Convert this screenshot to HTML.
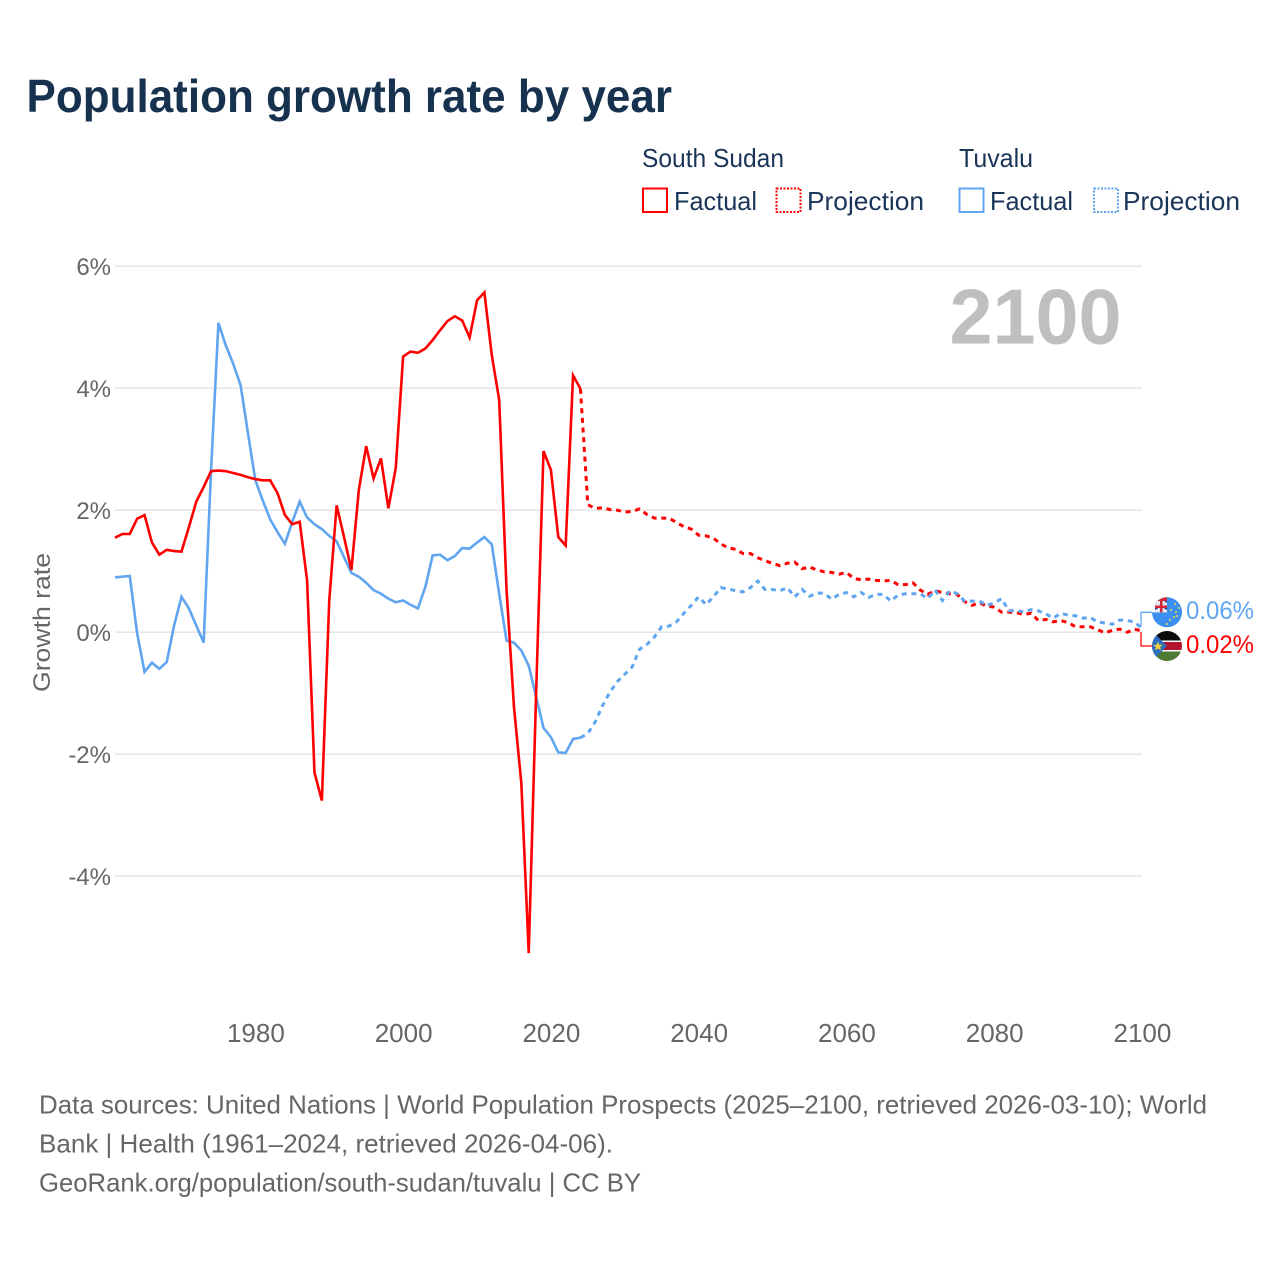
<!DOCTYPE html>
<html lang="en">
<head>
<meta charset="utf-8">
<title>Population growth rate by year</title>
<style>
html,body{margin:0;padding:0;background:#fff;}
svg{display:block;font-family:"Liberation Sans",sans-serif;}
</style>
</head>
<body>
<svg id="chart" xmlns="http://www.w3.org/2000/svg" width="1280" height="1280" viewBox="0 0 1280 1280">
  <rect x="0" y="0" width="1280" height="1280" fill="#ffffff"/>
  <text x="26.500" y="112" font-size="46" font-weight="700" fill="#17324f" textLength="645.500" lengthAdjust="spacingAndGlyphs">Population growth rate by year</text>

  <g id="legend" font-size="26" fill="#1a3557">
    <text x="642" y="167" textLength="142" lengthAdjust="spacingAndGlyphs">South Sudan</text>
    <text x="959" y="167" textLength="74" lengthAdjust="spacingAndGlyphs">Tuvalu</text>
    <rect x="643" y="188.5" width="24" height="23.5" fill="none" stroke="#ff0000" stroke-width="2"/>
    <text x="674" y="210" textLength="83" lengthAdjust="spacingAndGlyphs">Factual</text>
    <rect x="776.5" y="188.5" width="24" height="23.5" fill="none" stroke="#ff0000" stroke-width="2" stroke-dasharray="2 1.5"/>
    <text x="807" y="210" textLength="117" lengthAdjust="spacingAndGlyphs">Projection</text>
    <rect x="959.5" y="188.5" width="24" height="23.5" fill="none" stroke="#60a5f0" stroke-width="2"/>
    <text x="990" y="210" textLength="83" lengthAdjust="spacingAndGlyphs">Factual</text>
    <rect x="1094" y="188.5" width="24" height="23.5" fill="none" stroke="#60a5f0" stroke-width="2" stroke-dasharray="2 1.5"/>
    <text x="1123" y="210" textLength="117" lengthAdjust="spacingAndGlyphs">Projection</text>
  </g>

  <g id="grid"></g>
  <g id="yticks"></g>
  <g id="xticks"></g>

  <text transform="translate(50,622.5) rotate(-90)" text-anchor="middle" font-size="24" fill="#666666" textLength="139" lengthAdjust="spacingAndGlyphs">Growth rate</text>

  <text x="949.500" y="343.500" font-size="78" font-weight="700" fill="#bfbfbf" textLength="172" lengthAdjust="spacingAndGlyphs">2100</text>

  <g id="series"></g>

  <g>
    <path d="M1141 627V612.3H1152" fill="none" stroke="#60a5f0" stroke-width="1.300"/>
    <path d="M1141 632V646H1152" fill="none" stroke="#ff0000" stroke-width="1.300"/>
    <defs>
      <clipPath id="clipT"><circle cx="1167" cy="612.3" r="15"/></clipPath>
      <clipPath id="clipS"><circle cx="1167" cy="646" r="15"/></clipPath>
    </defs>
    <g clip-path="url(#clipT)">
      <rect x="1152" y="597" width="30" height="31" fill="#3a8ff0"/>
      <rect x="1152" y="597" width="15" height="15.300" fill="#ffffff"/>
      <rect x="1152" y="597" width="15" height="4" fill="#d3263a"/>
      <rect x="1155" y="601" width="12" height="11.300" fill="#e8e8ee"/>
      <rect x="1160" y="601" width="2.500" height="11.300" fill="#d3263a"/>
      <rect x="1155" y="605.500" width="12" height="2.500" fill="#d3263a"/>
      <path d="M1155 610l3.500-2h-3.500zM1167 610l-3.500-2h3.500zM1164 601l3 2v-2z" fill="#1d3f8f"/>
      <g fill="#f5d451">
        <circle cx="1175" cy="604" r="1"/><circle cx="1179" cy="608" r="1"/><circle cx="1176" cy="612" r="1"/>
        <circle cx="1171" cy="610" r="1"/><circle cx="1174" cy="617" r="1"/><circle cx="1170" cy="620" r="1"/>
        <circle cx="1167" cy="624" r="1"/><circle cx="1177" cy="616" r="1"/>
      </g>
    </g>
    <g clip-path="url(#clipS)">
      <rect x="1152" y="631" width="30" height="10" fill="#0b0b0b"/>
      <rect x="1152" y="640.500" width="30" height="11" fill="#ffffff"/>
      <rect x="1152" y="642" width="30" height="8" fill="#b3132f"/>
      <rect x="1152" y="651.500" width="30" height="9.500" fill="#4f7a32"/>
      <path d="M1152 631L1167 646 1152 661z" fill="#2b6fc0"/>
      <path d="M1158 641.500l1.300 3.200 3.400.200-2.600 2.200.900 3.300-3-1.800-3 1.800.900-3.300-2.600-2.200 3.400-.200z" fill="#f4d23c"/>
    </g>
    <text x="1186" y="619" font-size="25" fill="#60a5f0" textLength="68" lengthAdjust="spacingAndGlyphs">0.06%</text>
    <text x="1186" y="653" font-size="25" fill="#ff0000" textLength="68" lengthAdjust="spacingAndGlyphs">0.02%</text>
  </g>

  <g font-size="26" fill="#666666">
    <text x="39" y="1113.500" textLength="1168" lengthAdjust="spacingAndGlyphs">Data sources: United Nations | World Population Prospects (2025–2100, retrieved 2026-03-10); World</text>
    <text x="39" y="1152.500" textLength="574" lengthAdjust="spacingAndGlyphs">Bank | Health (1961–2024, retrieved 2026-04-06).</text>
    <text x="39" y="1191.500" textLength="602" lengthAdjust="spacingAndGlyphs">GeoRank.org/population/south-sudan/tuvalu | CC BY</text>
  </g>
</svg>
<script>
const firstYear = 1961;
const lastFactualYear = 2024;
const xTickYears = [1980, 2000, 2020, 2040, 2060, 2080, 2100];
const yTickValues = [6, 4, 2, 0, -2, -4];
const yTickLabels = ["6%", "4%", "2%", "0%", "-2%", "-4%"];

const southSudanFactual = [
  1.55,1.61,1.61,1.86,1.92,1.47,1.27,1.35,1.33,1.32,
  1.72,2.14,2.38,2.64,2.65,2.64,2.61,2.58,2.54,2.51,
  2.49,2.49,2.28,1.92,1.77,1.81,0.85,-2.30,-2.76,0.52,
  2.08,1.56,1.02,2.33,3.05,2.52,2.85,2.03,2.69,4.52,
  4.60,4.58,4.65,4.79,4.95,5.10,5.18,5.11,4.83,5.44,
  5.57,4.54,3.81,0.69,-1.22,-2.48,-5.26,-1.00,2.97,2.66,
  1.56,1.42,4.21,3.99
];
const southSudanProjection = [
  2.09,2.03,2.04,2.01,2.00,1.97,1.98,2.02,1.93,1.87,
  1.87,1.87,1.80,1.73,1.69,1.59,1.58,1.54,1.45,1.38,
  1.36,1.29,1.29,1.22,1.17,1.13,1.09,1.13,1.15,1.04,
  1.07,1.02,0.99,0.98,0.95,0.98,0.88,0.86,0.87,0.85,
  0.84,0.85,0.78,0.78,0.81,0.69,0.62,0.68,0.65,0.63,
  0.62,0.50,0.44,0.48,0.43,0.41,0.33,0.33,0.32,0.29,
  0.31,0.19,0.21,0.17,0.19,0.16,0.09,0.09,0.09,0.04,
  -0.01,0.03,0.05,0.00,0.05,0.02
];
const tuvaluFactual = [
  0.90,0.91,0.92,-0.02,-0.65,-0.50,-0.60,-0.49,0.11,0.58,
  0.39,0.11,-0.17,2.65,5.07,4.70,4.40,4.05,3.26,2.49,
  2.16,1.85,1.64,1.45,1.81,2.14,1.88,1.77,1.69,1.58,
  1.49,1.23,0.97,0.91,0.81,0.69,0.63,0.55,0.49,0.52,
  0.45,0.39,0.74,1.26,1.27,1.18,1.25,1.38,1.37,1.47,
  1.56,1.44,0.63,-0.14,-0.17,-0.30,-0.55,-1.06,-1.57,-1.72,
  -1.97,-1.98,-1.75,-1.73
];
const tuvaluProjection = [
  -1.66,-1.47,-1.20,-0.98,-0.81,-0.69,-0.57,-0.28,-0.20,-0.08,
  0.09,0.10,0.17,0.31,0.44,0.58,0.45,0.58,0.73,0.71,
  0.68,0.66,0.73,0.84,0.70,0.70,0.68,0.73,0.58,0.70,
  0.59,0.64,0.64,0.54,0.62,0.65,0.58,0.65,0.57,0.62,
  0.62,0.51,0.61,0.63,0.63,0.63,0.55,0.69,0.52,0.68,
  0.63,0.51,0.51,0.51,0.44,0.48,0.55,0.35,0.36,0.33,
  0.37,0.35,0.30,0.23,0.31,0.28,0.27,0.23,0.24,0.17,
  0.15,0.13,0.20,0.19,0.17,0.06
];

const SVG_NS = "http://www.w3.org/2000/svg";
function xScale(year) { return 115 + (year - 1961) * 7.388; }
function yScale(value) { return 632.2 - value * 61; }

function linePath(startYear, values, prefix) {
  let d = prefix || "";
  values.forEach(function (v, i) {
    const cmd = (d === "" ) ? "M" : "L";
    d += cmd + xScale(startYear + i).toFixed(2) + " " + yScale(v).toFixed(2);
  });
  return d;
}

const grid = document.getElementById("grid");
const yticks = document.getElementById("yticks");
yTickValues.forEach(function (v, i) {
  const line = document.createElementNS(SVG_NS, "line");
  line.setAttribute("x1", 115);
  line.setAttribute("x2", 1142);
  line.setAttribute("y1", yScale(v));
  line.setAttribute("y2", yScale(v));
  line.setAttribute("stroke", "#e6e6e6");
  line.setAttribute("stroke-width", "1.6");
  
  
  grid.appendChild(line);

  const t = document.createElementNS(SVG_NS, "text");
  t.setAttribute("x", 111);
  t.setAttribute("y", yScale(v) + 8.6);
  t.setAttribute("text-anchor", "end");
  t.setAttribute("font-size", "24");
  t.setAttribute("fill", "#666666");
  t.textContent = yTickLabels[i];
  
  
  yticks.appendChild(t);
});

const xticks = document.getElementById("xticks");
xTickYears.forEach(function (year) {
  const t = document.createElementNS(SVG_NS, "text");
  t.setAttribute("x", xScale(year) + 0.5);
  t.setAttribute("y", 1042);
  t.setAttribute("text-anchor", "middle");
  t.setAttribute("font-size", "26");
  t.setAttribute("fill", "#666666");
  t.textContent = String(year);
  
  
  xticks.appendChild(t);
});

const seriesGroup = document.getElementById("series");
function addFactual(values, color, name) {
  const p = document.createElementNS(SVG_NS, "path");
  p.setAttribute("d", linePath(firstYear, values));
  p.setAttribute("fill", "none");
  p.setAttribute("stroke", color);
  p.setAttribute("stroke-width", "2.6");
  p.setAttribute("stroke-linejoin", "miter");
  
  
  seriesGroup.appendChild(p);
}
function addProjection(lastFactual, values, color, name) {
  const all = [lastFactual].concat(values);
  const p = document.createElementNS(SVG_NS, "path");
  p.setAttribute("d", linePath(lastFactualYear, all));
  p.setAttribute("fill", "none");
  p.setAttribute("stroke", color);
  p.setAttribute("stroke-width", "3");
  p.setAttribute("stroke-dasharray", "5 4.7");
  
  
  seriesGroup.appendChild(p);
}
addFactual(tuvaluFactual, "#60a5f0", "tuvalu-factual-line");
addFactual(southSudanFactual, "#ff0000", "south-sudan-factual-line");
addProjection(southSudanFactual[southSudanFactual.length - 1], southSudanProjection, "#ff0000", "south-sudan-projection-line");
addProjection(tuvaluFactual[tuvaluFactual.length - 1], tuvaluProjection, "#60a5f0", "tuvalu-projection-line");
</script>
</body>
</html>
